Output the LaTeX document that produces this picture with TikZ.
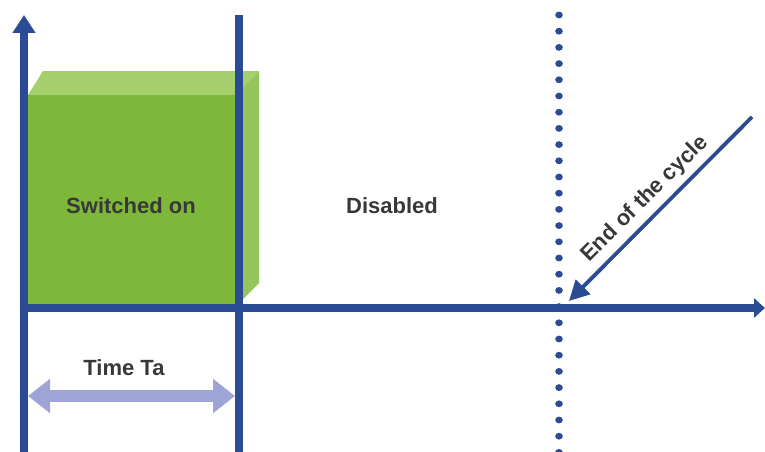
\documentclass[tikz,border=0pt]{standalone}
\usepackage{fontspec}
\setmainfont{Liberation Sans}
\usetikzlibrary{arrows.meta}
\definecolor{axisblue}{HTML}{2B4C95}
\definecolor{boxfront}{HTML}{7DB83A}
\definecolor{boxtop}{HTML}{A6CF6E}
\definecolor{boxside}{HTML}{96C55C}
\definecolor{spanlilac}{HTML}{9EA4D5}
\definecolor{labelgray}{HTML}{383838}
\tikzset{
  axis/.style={draw=axisblue, line width=7.5pt},
  label/.style={text=labelgray, font=\fontsize{22}{26}\selectfont\bfseries, inner sep=0pt},
}
\begin{document}
\begin{tikzpicture}[x=1pt,y=-1pt]
\useasboundingbox (0,0) rectangle (765,452);

% key points
\coordinate (origin) at (20,308);
\coordinate (ybot) at (24,452);
\coordinate (ytop) at (24,15);
\coordinate (xend) at (765,308);
\coordinate (tabot) at (239,452);
\coordinate (tatop) at (239,15);

% green block (front, top, side)
\fill[boxtop] (28,95) -- (43,71) -- (259,71) -- (236,95) -- cycle;
\fill[boxside] (236,95) -- (259,71) -- (259,283) -- (238,304) -- cycle;
\fill[boxfront] (28,95) rectangle (236,304);

% axes and boundary of Ta
\draw[axis, -{Triangle[length=18pt,width=22pt]}] (ybot) -- (ytop);
\draw[axis] (tabot) -- (tatop);
\draw[axis, -{Triangle[length=11pt,width=19pt]}] (origin) -- (xend);

% end-of-cycle marker
\foreach \i in {0,...,27}
  \fill[axisblue] (559,15+16.2*\i) ellipse (3.8 and 3.4);

% labels
\node[label] (on) at (131,206) {Switched on};
\node[label] (off) at (392,206) {Disabled};
\node[label] (ta) at (124,368) {Time Ta};

% duration of Ta
\coordinate (tal) at (28,396);
\coordinate (tar) at (235,396);
\draw[spanlilac, line width=12pt, {Triangle[length=22pt,width=33pt]}-{Triangle[length=22pt,width=33pt]}] (tal) -- (tar);

% pointer to end of cycle
\coordinate (ptrstart) at (752,117);
\coordinate (ptrend) at (569,301);
\draw[axisblue, line width=3.8pt, -{Triangle[length=20pt,width=20pt]}] (ptrstart) -- (ptrend);
\node[label, rotate=45] (cycle) at (645,199) {End of the cycle};
\end{tikzpicture}
\end{document}
